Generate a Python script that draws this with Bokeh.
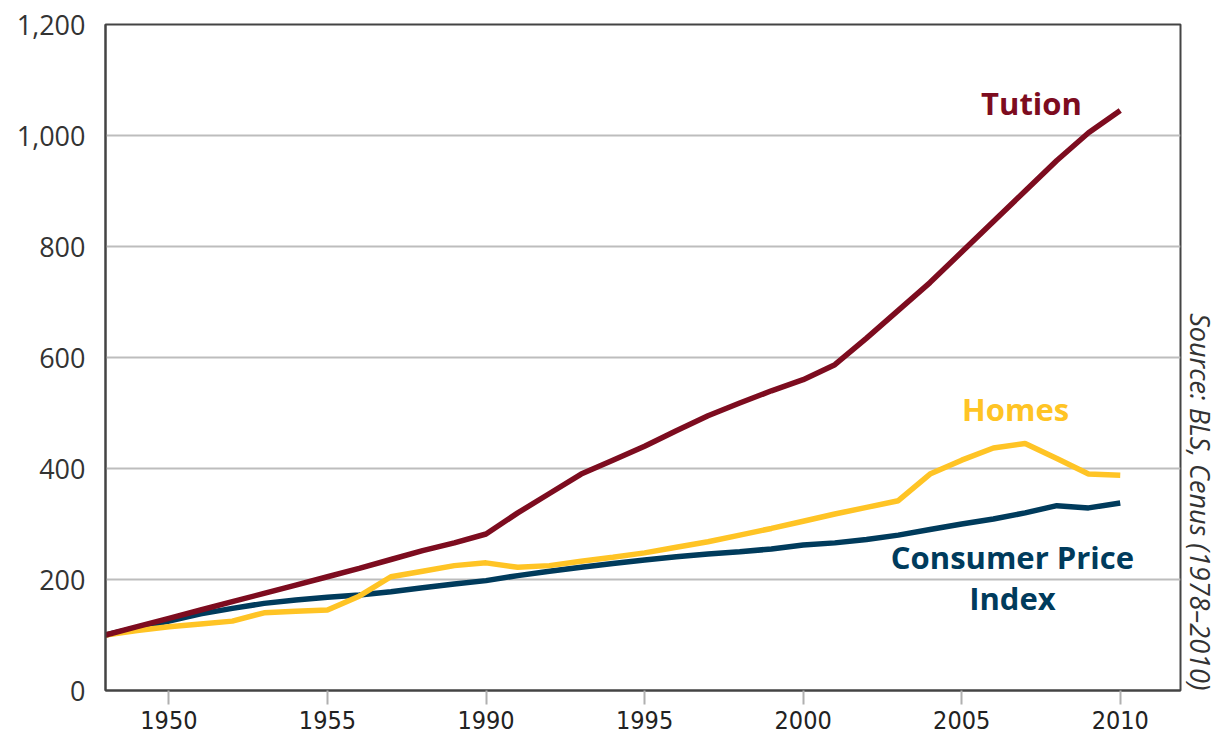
import math
from bokeh.plotting import figure
from bokeh.models import FixedTicker, Range1d, Title, ColumnDataSource
from bokeh.core.properties import value
from bokeh.embed import file_html
from bokeh.resources import INLINE

years = list(range(1978, 2011))
tuition = [100, 115, 130, 145, 160, 175, 190, 205, 220, 236, 252, 266, 282,
           320, 355, 390, 415, 440, 468, 495, 518, 540, 560, 587, 635, 685,
           735, 790, 845, 900, 955, 1005, 1045]
homes = [100, 108, 115, 120, 125, 140, 143, 145, 170, 205, 215, 225, 230,
         222, 225, 233, 240, 248, 258, 268, 280, 292, 305, 318, 330, 342,
         390, 415, 437, 445, 418, 390, 388]
cpi = [100, 113, 125, 138, 148, 157, 163, 168, 172, 178, 185, 192, 198,
       207, 215, 222, 229, 235, 241, 246, 250, 255, 262, 266, 272, 280,
       290, 300, 309, 320, 333, 329, 338]

x_ticks = [1980, 1985, 1990, 1995, 2000, 2005, 2010]
x_tick_labels = ["1950", "1955", "1990", "1995", "2000", "2005", "2010"]
y_ticks = [0, 200, 400, 600, 800, 1000, 1200]
y_tick_labels = ["0", "200", "400", "600", "800", "1,000", "1,200"]

series_names = ["Tution", "Homes", "Consumer Price", "Index"]
label_x = [2007.2, 2006.7, 2006.6, 2006.6]
label_y = [1059, 508, 240, 166]

TUITION_C = "#7d0c1f"
HOMES_C = "#ffc425"
CPI_C = "#003b5c"
label_colors = [TUITION_C, HOMES_C, CPI_C, CPI_C]

p = figure(width=1221, height=737, output_backend="svg", toolbar_location=None,
           x_range=Range1d(1978, 2011.9), y_range=Range1d(0, 1200),
           min_border_left=105, min_border_right=41, min_border_top=24,
           min_border_bottom=47)

p.outline_line_color = "#444444"
p.outline_line_width = 2
p.background_fill_color = "white"
p.border_fill_color = "white"

p.xgrid.grid_line_color = None
p.ygrid.grid_line_color = "#bdbdbd"
p.ygrid.grid_line_width = 2
p.ygrid.ticker = FixedTicker(ticks=y_ticks)

p.xaxis.ticker = FixedTicker(ticks=x_ticks)
p.xaxis.major_label_overrides = dict(zip(x_ticks, x_tick_labels))
p.xaxis.axis_line_color = "#444444"
p.xaxis.axis_line_width = 2
p.xaxis.major_tick_in = 0
p.xaxis.major_tick_out = 14
p.xaxis.major_tick_line_color = "#b0b0b0"
p.xaxis.major_tick_line_width = 2
p.xaxis.minor_tick_line_color = None
p.xaxis.major_label_text_font = "DejaVu Sans Condensed, Liberation Sans"
p.xaxis.major_label_text_font_size = "25px"
p.xaxis.major_label_text_color = "#222222"
p.xaxis.major_label_standoff = 6

p.yaxis.ticker = FixedTicker(ticks=y_ticks)
p.yaxis.major_label_overrides = dict(zip(y_ticks, y_tick_labels))
p.yaxis.axis_line_color = "#444444"
p.yaxis.axis_line_width = 2
p.yaxis.major_tick_line_color = None
p.yaxis.minor_tick_line_color = None
p.yaxis.major_label_text_font = "Open Sans"
p.yaxis.major_label_text_font_size = "27px"
p.yaxis.major_label_text_color = "#333333"
p.yaxis.major_label_standoff = 14

p.line(years, cpi, line_color=CPI_C, line_width=5.5)
p.line(years, homes, line_color=HOMES_C, line_width=5.5)
p.line(years, tuition, line_color=TUITION_C, line_width=5.5)

src = ColumnDataSource(dict(x=label_x, y=label_y, t=series_names, c=label_colors))
p.text(x="x", y="y", text="t", text_color="c", source=src,
       text_font=value("Open Sans"), text_font_style="bold",
       text_font_size="31px", text_align="center", text_baseline="middle")

source = Title(text="Source: BLS, Cenus (1978\u20132010)", align="right",
               offset=0, standoff=2,
               text_font="Open Sans", text_font_style="italic",
               text_font_size="27px", text_color="#333333")
p.add_layout(source, "right")

open("out.html", "w").write(file_html(p, INLINE))
